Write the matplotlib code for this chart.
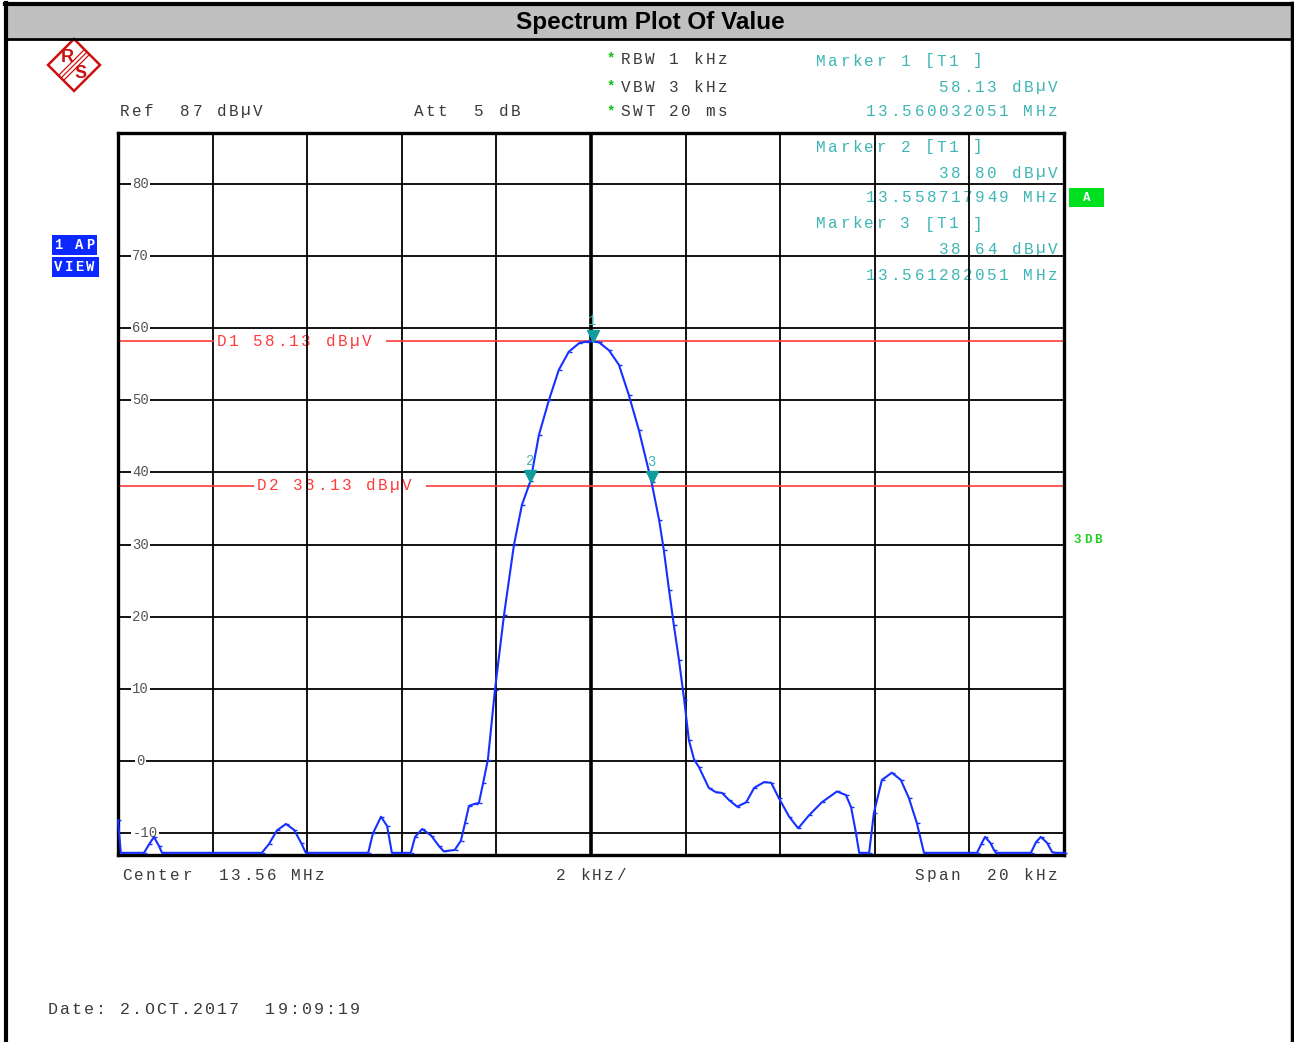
import matplotlib
matplotlib.use("Agg")
import matplotlib.pyplot as plt
from matplotlib.patches import Rectangle, Polygon
from matplotlib.transforms import offset_copy

# trace (kHz offset from 13.56 MHz, dBuV)
freq_khz = [-10.00, -9.94, -9.45, -9.34, -9.24, -9.13, -9.07, -6.96, -6.81, -6.64,
            -6.45, -6.28, -6.13, -6.03, -4.71, -4.61, -4.44, -4.31, -4.21, -3.81,
            -3.72, -3.57, -3.38, -3.21, -3.11, -2.88, -2.75, -2.66, -2.58, -2.45,
            -2.37, -2.28, -2.18, -2.03, -1.84, -1.63, -1.46, -1.28, -1.10, -0.89,
            -0.68, -0.47, -0.25, -0.10, 0.03, 0.17, 0.38, 0.59, 0.80, 1.01,
            1.28, 1.44, 1.54, 1.65, 1.75, 1.86, 1.97, 2.07, 2.18, 2.28,
            2.49, 2.64, 2.77, 2.92, 3.09, 3.28, 3.45, 3.66, 3.81, 3.97,
            4.19, 4.38, 4.61, 4.88, 5.20, 5.39, 5.50, 5.60, 5.67, 5.88,
            5.98, 6.15, 6.36, 6.55, 6.72, 6.89, 7.04, 8.16, 8.25, 8.33,
            8.44, 8.52, 8.56, 9.30, 9.41, 9.51, 9.64, 9.75, 9.81, 10.00]
level_dbuv = [-8.2, -12.7, -12.7, -11.5, -10.5, -11.8, -12.7, -12.7, -11.5, -9.6,
              -8.7, -9.5, -11.3, -12.7, -12.7, -10.0, -7.7, -9.0, -12.7, -12.7,
              -10.5, -9.4, -10.3, -11.8, -12.5, -12.3, -11.0, -8.5, -6.2, -5.9,
              -5.8, -3.0, 0.2, 9.9, 20.2, 29.9, 35.5, 38.8, 45.2, 50.0,
              54.2, 56.7, 57.9, 58.1, 58.13, 58.0, 56.9, 54.9, 50.7, 45.9,
              38.64, 33.4, 29.2, 23.7, 18.9, 14.0, 8.5, 2.9, 0.2, -0.8,
              -3.7, -4.3, -4.4, -5.4, -6.3, -5.7, -3.7, -2.9, -3.0, -5.1,
              -7.7, -9.3, -7.5, -5.7, -4.2, -4.7, -6.4, -9.9, -12.7, -12.7,
              -7.2, -2.6, -1.6, -2.6, -5.1, -8.6, -12.7, -12.7, -11.5, -10.5,
              -11.3, -12.3, -12.7, -12.7, -11.2, -10.5, -11.3, -12.6, -12.7, -12.7]

marker_khz = [0.032051, -1.282051, 1.282051]
marker_dbuv = [58.13, 38.80, 38.64]
marker_freq = ["13.560032051 MHz", "13.558717949 MHz", "13.561282051 MHz"]
display_lines = [58.13, 38.13]
display_names = ["D1", "D2"]
level_ticks = [80, 70, 60, 50, 40, 30, 20, 10, 0, -10]
freq_ticks = [-8, -6, -4, -2, 0, 2, 4, 6, 8]

W, H = 1294, 1042
MONO = "Liberation Mono"
TEAL = "#3fb5b5"
RED = "#ff3b3b"
GRAY = "#3a3a3a"

fig = plt.figure(figsize=(W / 100, H / 100), dpi=100)
fig.patch.set_facecolor("white")

# pixel overlay for header, footer and frame
ov = fig.add_axes([0, 0, 1, 1], zorder=-1)
ov.set_xlim(0, W)
ov.set_ylim(H, 0)
ov.axis("off")

ax = fig.add_axes([118 / W, (H - 855) / H, 946 / W, 722 / H], zorder=1)
ax.set_facecolor("none")
ax.set_xlim(-10, 10)
ax.set_ylim(-13, 87)
ax.set_xticks([])
ax.set_yticks([])
for s in ax.spines.values():
    s.set_linewidth(2.4)
    s.set_color("black")


def spaced(x, y, s, color=GRAY, size=11.5, pitch=12.1, align="left", weight="normal", z=1, target=None):
    # draw text one char at a time, the analyzer font is widely spaced
    if align == "right":
        x = x - (len(s) - 1) * pitch - 9
    for i, ch in enumerate(s):
        if ch == " ":
            continue
        t = (target or ov).text(x + i * pitch + 4.5, y, ch, color=color, fontsize=size,
                                family=MONO, weight=weight, ha="center", va="center",
                                zorder=z)
        if target is not None:
            t.set_transform(ov.transData)
            t.set_clip_on(False)


# outer frame and title bar
ov.add_patch(Rectangle((7, 5), 1285, 33, facecolor="#c0c0c0", edgecolor="none"))
ov.plot([5, 1293], [4, 4], color="black", lw=3)
ov.plot([7, 1292], [38.5, 38.5], color="black", lw=2)
ov.plot([6, 6], [3, H], color="black", lw=3)
ov.plot([1292, 1292], [3, H], color="black", lw=2.5)
ov.text(650, 22, "Spectrum Plot Of Value", fontsize=17.5, weight="bold",
        family="Liberation Sans", ha="center", va="center", color="black")

# R&S logo
cx, cy, r = 74, 65, 26
ov.add_patch(Polygon([(cx, cy - r), (cx + r, cy), (cx, cy + r), (cx - r, cy)],
                     closed=True, fill=False, edgecolor="#cc1010", lw=1.8))
for d in (-2.5, 0, 2.5):
    ov.plot([cx + 13 + d, cx - 13 + d], [cy - 13 + d, cy + 13 + d], color="#cc1010", lw=0.9)
ov.text(cx - 7, cy - 8, "R", color="#cc1010", fontsize=13, weight="bold",
        family="Liberation Sans", ha="center", va="center")
ov.text(cx + 7, cy + 8, "S", color="#cc1010", fontsize=13, weight="bold",
        family="Liberation Sans", ha="center", va="center")

# header settings
spaced(120, 111, "Ref  87 dBµV")
spaced(414, 111, "Att  5 dB")
for yy, s in zip([59, 87, 112], ["RBW 1 kHz", "VBW 3 kHz", "SWT 20 ms"]):
    ov.text(611, yy - 1, "*", color="#10c010", fontsize=10, weight="bold",
            family=MONO, ha="center", va="center")
    spaced(621, yy, s)

# marker readouts
rows = [(61, 87, 111), (147, 173, 198), (224, 249, 276)]
for k, (y1, y2, y3) in enumerate(rows):
    spaced(816, y1, "Marker %d [T1 ]" % (k + 1), color=TEAL, target=ax)
    spaced(1057, y2, "%.2f dBµV" % marker_dbuv[k], color=TEAL, align="right", target=ax)
    spaced(1057, y3, marker_freq[k], color=TEAL, align="right", target=ax)

# side badges
ov.add_patch(Rectangle((52, 235), 45, 20, facecolor="#0a28ff", edgecolor="none"))
ov.add_patch(Rectangle((52, 257), 47, 20, facecolor="#0a28ff", edgecolor="none"))
spaced(54, 245, "1 AP", color="white", size=10, pitch=10.5, weight="bold")
spaced(54, 267, "VIEW", color="white", size=10, pitch=10.5, weight="bold")
ov.add_patch(Rectangle((1069, 188), 35, 19, facecolor="#00e020", edgecolor="none"))
ov.text(1087, 198, "A", color="white", fontsize=9, weight="bold", family=MONO,
        ha="center", va="center")
spaced(1073, 540, "3DB", color="#20d020", size=9, pitch=10, weight="bold")

# footer
spaced(122, 875, "Center  13.56 MHz")
spaced(556, 875, "2 kHz/")
spaced(1057, 875, "Span  20 kHz", align="right")
spaced(48, 1009, "Date: 2.OCT.2017  19:09:19", size=12, pitch=12.1)

# grid
for v in level_ticks:
    ax.axhline(v, color="black", lw=1.3, zorder=2)
    ax.text(-9.52 if v >= 0 else -9.42, v, str(v), family=MONO, fontsize=10,
            color="#555555", ha="center", va="center", zorder=2.5,
            bbox=dict(facecolor="white", edgecolor="none", pad=1.0))
for v in freq_ticks:
    ax.axvline(v, color="black", lw=2.6 if v == 0 else 1.3, zorder=2)

# display lines with their labels
for v, name, (g0, g1) in zip(display_lines, display_names, [(-7.97, -4.33), (-7.12, -3.49)]):
    ax.hlines(v, -10, g0, color=RED, lw=1.2, zorder=2.2)
    ax.hlines(v, g1, 10, color=RED, lw=1.2, zorder=2.2)
    px = 592 + g0 * 47.3 + 2
    py = 855 - (v + 13) * 7.22
    spaced(px, py, "%s %.2f dBµV" % (name, v), color=RED, target=ax, z=1)

# trace
ax.plot(freq_khz, level_dbuv, color="#1530ff", lw=1.5, zorder=3,
        marker=1, markersize=2.5, markeredgewidth=1.0, clip_on=False)

# markers
tri = offset_copy(ax.transData, fig=fig, x=0, y=5, units="dots")
lab = offset_copy(ax.transData, fig=fig, x=0, y=20, units="dots")
for k, (fx, lv) in enumerate(zip(marker_khz, marker_dbuv)):
    ax.plot([fx], [lv], marker="v", markersize=9, color="#139c9c", transform=tri, zorder=4)
    ax.text(fx, lv, str(k + 1), color=TEAL, fontsize=10, family=MONO, ha="center",
            va="center", transform=lab, zorder=4)

fig.savefig("out.png", dpi=100)
